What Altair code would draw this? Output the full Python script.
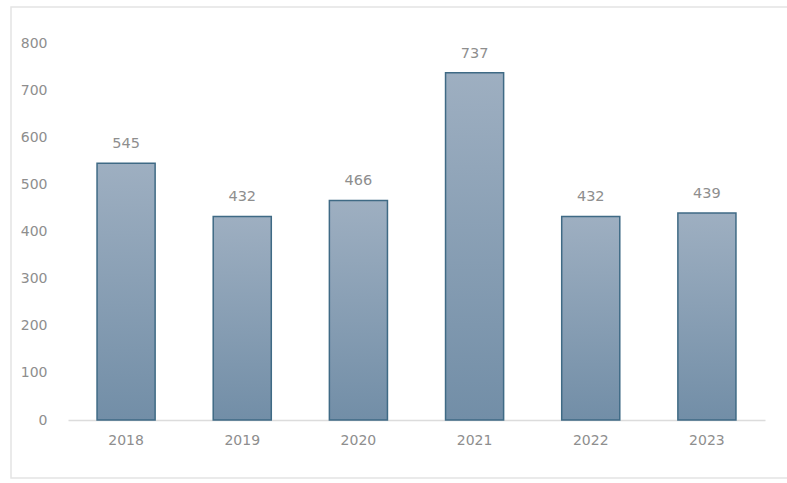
import altair as alt
import pandas as pd

years = ["2018", "2019", "2020", "2021", "2022", "2023"]
values = [545, 432, 466, 737, 432, 439]

df = pd.DataFrame({"year": years, "value": values})

FONT = "DejaVu Sans"
GREY = "#8e8e8e"

grad = alt.LinearGradient(
    gradient="linear",
    stops=[alt.GradientStop(color="#9eafc1", offset=0),
           alt.GradientStop(color="#728ea7", offset=1)],
    x1=0, x2=0, y1=0, y2=1,
)

x = alt.X("year:N", title=None, sort=years,
          scale=alt.Scale(paddingInner=0.5, paddingOuter=0.25),
          axis=alt.Axis(labelAngle=0, ticks=False, domainColor="#dcdcdc", domainWidth=1.5,
                        labelColor=GREY, labelFontSize=14, labelPadding=13,
                        labelFont=FONT))
y = alt.Y("value:Q", title=None,
          scale=alt.Scale(domain=[0, 800]),
          axis=alt.Axis(values=[0, 100, 200, 300, 400, 500, 600, 700, 800], grid=False,
                        domain=False, ticks=False, labelColor=GREY, labelFontSize=14,
                        labelPadding=21, labelFont=FONT))

base = alt.Chart(df)

border = alt.Chart(pd.DataFrame({"a": [0]})).mark_rect(
    fill=None, stroke="#e4e4e4", strokeWidth=1.5, clip=False
).encode(x=alt.value(-57), x2=alt.value(740), y=alt.value(-36), y2=alt.value(435))

bars = base.mark_bar(color=grad, stroke="#3f6a85", strokeWidth=1.5).encode(x=x, y=y)

labels = base.mark_text(dy=-19, color=GREY, fontSize=14.5, font=FONT).encode(
    x=alt.X("year:N", sort=years), y="value:Q", text="value:Q")

chart = alt.layer(border, bars, labels).properties(
    width=697, height=377,
    padding={"left": 68, "top": 43, "right": 22, "bottom": 63},
    autosize=alt.AutoSizeParams(type="none"),
    background="white",
).configure_view(stroke=None)

chart.save("out.html", embed_options={"renderer": "svg", "actions": False})
